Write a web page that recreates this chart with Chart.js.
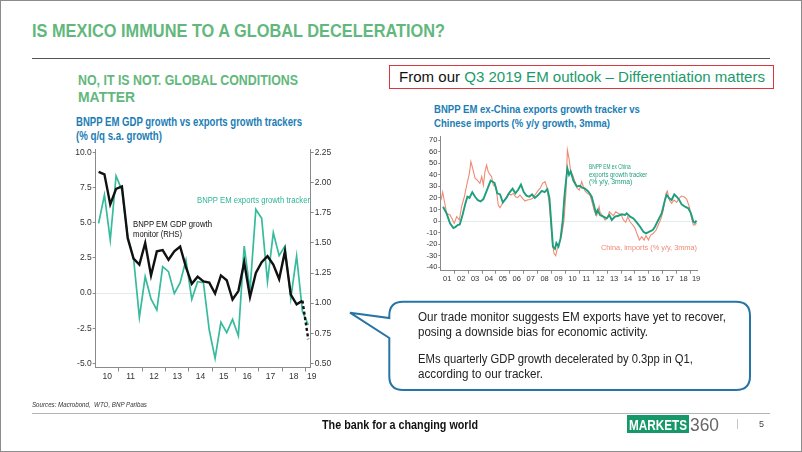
<!DOCTYPE html>
<html>
<head>
<meta charset="utf-8">
<script src="https://cdn.jsdelivr.net/npm/chart.js@4.4.0/dist/chart.umd.min.js"></script>
<style>
  body { margin: 0; background: #fff; }
  #page { position: absolute; left: 0; top: 0; width: 802px; height: 452px; overflow: hidden; font-family: 'Liberation Sans', Arial, sans-serif; }
  #frame { position: absolute; left: 0; top: 0; width: 802px; height: 452px; box-sizing: border-box; border: 1px solid #8c8c8c; pointer-events: none; }
  .t { position: absolute; white-space: nowrap; line-height: 1; transform-origin: 0 50%; }
  .green { color: #62b87c; font-weight: bold; }
  .blue { color: #1b7db5; font-weight: bold; }
  .rule { position: absolute; }
  canvas { position: absolute; }
  a { color: #1c9a6c; }
</style>
</head>
<body>
<div id="page">
  <div class="t green" style="left:32px;top:22px;font-size:18.5px" data-w="413">IS MEXICO IMMUNE TO A GLOBAL DECELERATION?</div>
  <div class="rule" style="left:32px;top:57.5px;width:738px;height:1.3px;background:#555"></div>

  <div class="t green" style="left:78px;top:73px;font-size:14px" data-w="220">NO, IT IS NOT. GLOBAL CONDITIONS</div>
  <div class="t green" style="left:78px;top:90px;font-size:14px" data-w="57">MATTER</div>

  <div class="rule" style="left:389px;top:65px;width:383px;height:22px;border:1.3px solid #d8383c"></div>
  <div class="t" style="left:399px;top:69px;font-size:15px;color:#111" data-w="366">From our <a>Q3 2019 EM outlook – Differentiation matters</a></div>

  <div class="t blue" style="left:76px;top:115.7px;font-size:12px" data-w="226">BNPP EM GDP growth vs exports growth trackers</div>
  <div class="t blue" style="left:76px;top:130px;font-size:12px" data-w="86">(% q/q s.a. growth)</div>

  <div class="t blue" style="left:434px;top:104.2px;font-size:11.5px" data-w="206">BNPP EM ex-China exports growth tracker vs</div>
  <div class="t blue" style="left:434px;top:117.5px;font-size:11.5px" data-w="176">Chinese imports (% y/y growth, 3mma)</div>

  <canvas id="c1" width="290" height="248" style="left:56px;top:140px"></canvas>
  <canvas id="c2" width="300" height="156" style="left:410px;top:128px"></canvas>

  <div class="t" style="left:196.7px;top:195.5px;font-size:9px;color:#2fb597" data-w="113">BNPP EM exports growth tracker</div>
  <div class="t" style="left:132.7px;top:219.8px;font-size:9px;color:#111" data-w="79">BNPP EM GDP growth</div>
  <div class="t" style="left:132.7px;top:229.5px;font-size:9px;color:#111" data-w="49">monitor (RHS)</div>

  <div class="t" style="left:589.3px;top:162.9px;font-size:7.5px;color:#1d9e7c" data-w="41.7">BNPP EM ex China</div>
  <div class="t" style="left:589.3px;top:170.5px;font-size:7.5px;color:#1d9e7c" data-w="58.3">exports growth tracker</div>
  <div class="t" style="left:589.3px;top:177.9px;font-size:7.5px;color:#1d9e7c" data-w="43.3">(% y/y, 3mma)</div>
  <div class="t" style="left:600.7px;top:243.7px;font-size:8px;color:#ef8a74" data-w="96">China, imports (% y/y, 3mma)</div>

  <svg style="position:absolute;left:0;top:0" width="802" height="452">
    <path d="M 403 301.7 H 736 Q 750 301.7 750 315.7 V 376 Q 750 390 736 390 H 403 Q 389.3 390 389.3 376 V 338 L 350 312.7 L 389.3 318 V 315.7 Q 389.3 301.7 403 301.7 Z"
          fill="#fff" stroke="#2774a6" stroke-width="2"/>
  </svg>
  <div class="t" style="left:418.3px;top:310.5px;font-size:12.5px;color:#222" data-w="308">Our trade monitor suggests EM exports have yet to recover,</div>
  <div class="t" style="left:418.3px;top:325.8px;font-size:12.5px;color:#222" data-w="230">posing a downside bias for economic activity.</div>
  <div class="t" style="left:418.3px;top:353.3px;font-size:12.5px;color:#222" data-w="275">EMs quarterly GDP growth decelerated by 0.3pp in Q1,</div>
  <div class="t" style="left:418.3px;top:367.8px;font-size:12.5px;color:#222" data-w="125">according to our tracker.</div>

  <div class="t" style="left:32px;top:400.5px;font-size:7px;font-style:italic;color:#333" data-w="115">Sources: Macrobond,&nbsp; WTO, BNP Paribas</div>
  <div class="rule" style="left:32px;top:412.5px;width:738px;height:1.5px;background:#b4b4b4"></div>

  <div class="t" style="left:322px;top:417.5px;font-size:13px;font-weight:bold;color:#111" data-w="156">The bank for a changing world</div>
  <div class="rule" style="left:627px;top:415px;width:62px;height:18px;background:#16986a"></div>
  <div class="t" style="left:629px;top:416.5px;font-size:15px;font-weight:bold;color:#fff" data-w="58">MARKETS</div>
  <div class="t" style="left:690px;top:414.5px;font-size:19px;color:#666" data-w="29">360</div>
  <div class="rule" style="left:737px;top:419px;width:1px;height:10px;background:#c4c4c4"></div>
  <div class="t" style="left:759px;top:419.5px;font-size:9px;color:#444">5</div>
</div>
<div id="frame"></div>

<script>
// left chart: quarterly, 2010 Q1 .. 2019 Q1
const quarters = ['2010 Q1','2010 Q2','2010 Q3','2010 Q4','2011 Q1','2011 Q2','2011 Q3','2011 Q4',
  '2012 Q1','2012 Q2','2012 Q3','2012 Q4','2013 Q1','2013 Q2','2013 Q3','2013 Q4',
  '2014 Q1','2014 Q2','2014 Q3','2014 Q4','2015 Q1','2015 Q2','2015 Q3','2015 Q4',
  '2016 Q1','2016 Q2','2016 Q3','2016 Q4','2017 Q1','2017 Q2','2017 Q3','2017 Q4',
  '2018 Q1','2018 Q2','2018 Q3','2018 Q4','2019 Q1'];
const gdpMonitor = [2.09, 2.07, 1.82, 1.95, 1.97, 1.54, 1.37, 1.32, 1.50, 1.23, 1.43, 1.44,
  1.36, 1.43, 1.47, 1.30, 1.16, 1.22, 1.18, 1.17, 1.08, 1.23, 1.19, 1.03,
  1.10, 1.34, 1.05, 1.25, 1.34, 1.39, 1.32, 1.20, 1.43, 1.07, 0.99, 1.02, 0.70];
const exportsTracker = [4.97, 6.99, 3.78, 8.34, 7.34, 4.0, 2.48, -1.73, 1.17, -0.42, -1.2, 1.88,
  1.53, -0.02, 0.74, 2.36, -0.44, 0.81, 0.74, -2.63, -4.65, -2.08, -2.82, -1.87,
  -3.05, 3.35, 0.22, 5.96, 5.32, 0.81, 4.30, 2.67, 3.35, -0.37, 2.64, -1.32, -2.27];
const leftTicks = [-5, -2.5, 0, 2.5, 5, 7.5, 10];
const rightTicks = [0.5, 0.75, 1.0, 1.25, 1.5, 1.75, 2.0, 2.25];
const yearLabels1 = ['10','11','12','13','14','15','16','17','18','19'];

// right chart: readings of the two 3mma series (decimal years)
const emDates = [2001.2, 2001.45, 2001.7, 2001.94, 2002.1, 2002.25, 2002.4, 2002.6, 2002.8, 2002.95,
  2003.1, 2003.3, 2003.5, 2003.7, 2003.9, 2004.1, 2004.3, 2004.62, 2004.9, 2005.1,
  2005.3, 2005.5, 2005.75, 2006.0, 2006.2, 2006.4, 2006.6, 2006.8, 2007.0, 2007.2,
  2007.4, 2007.6, 2007.8, 2008.0, 2008.3, 2008.5, 2008.7, 2008.85, 2009.0, 2009.1,
  2009.25, 2009.35, 2009.5, 2009.65, 2009.8, 2009.92, 2010.0, 2010.14, 2010.26, 2010.38,
  2010.57, 2010.81, 2011.05, 2011.17, 2011.41, 2011.65, 2011.89, 2012.08, 2012.2, 2012.32,
  2012.49, 2012.73, 2012.97, 2013.16, 2013.33, 2013.57, 2013.81, 2014.05, 2014.29, 2014.41,
  2014.65, 2014.89, 2015.13, 2015.37, 2015.61, 2015.8, 2016.04, 2016.28, 2016.44, 2016.68,
  2016.92, 2017.16, 2017.28, 2017.47, 2017.64, 2017.83, 2018.0, 2018.19, 2018.36, 2018.6,
  2018.84, 2019.03, 2019.2, 2019.31, 2019.43];
const emGrowth = [12.4, 6.6, -2.0, -6.0, -5.0, -3.5, -3.0, 5.2, 15, 21,
  20, 25, 21, 18, 17, 19, 25, 35, 33, 24,
  23, 16, 20, 25, 28, 24, 27, 31.5, 25, 22,
  21, 23, 20, 22, 26, 25, 27.5, 20, -5, -22,
  -24, -19, -22, -15, 0, 20, 30, 45.5, 40, 43,
  35, 30, 30.5, 29, 28, 25.5, 21, 12.4, 6.6, 9.5,
  5.2, 3.8, 2.3, 5.2, 0.9, 3.8, 4.6, 5.8, 5.2, 6.6,
  3.8, 2.3, -1.1, -4.9, -9.2, -10.6, -9.2, -7.8, -4.9, 0.9,
  6.6, 18.2, 22.5, 19.6, 18.2, 23.1, 21, 18.2, 14.4, 12.4,
  11, 6.6, -0.6, -1.4, 0.3];
const cnDates = [2001.05, 2001.17, 2001.3, 2001.46, 2001.7, 2001.89, 2002.0, 2002.18, 2002.37, 2002.53,
  2002.73, 2002.9, 2003.09, 2003.2, 2003.33, 2003.5, 2003.66, 2003.85, 2003.98, 2004.1,
  2004.21, 2004.33, 2004.45, 2004.57, 2004.69, 2004.81, 2005.0, 2005.17, 2005.29, 2005.41,
  2005.53, 2005.72, 2005.89, 2006.08, 2006.25, 2006.42, 2006.56, 2006.73, 2006.92, 2007.09,
  2007.26, 2007.45, 2007.64, 2007.81, 2007.98, 2008.17, 2008.36, 2008.53, 2008.65, 2008.82,
  2008.96, 2009.08, 2009.18, 2009.3, 2009.42, 2009.56, 2009.73, 2009.9, 2010.04, 2010.14,
  2010.26, 2010.38, 2010.52, 2010.69, 2010.85, 2011.0, 2011.17, 2011.29, 2011.41, 2011.58,
  2011.77, 2011.94, 2012.08, 2012.25, 2012.42, 2012.49, 2012.68, 2012.85, 2013.02, 2013.16,
  2013.28, 2013.45, 2013.62, 2013.81, 2014.0, 2014.17, 2014.34, 2014.48, 2014.65, 2014.84,
  2015.01, 2015.18, 2015.32, 2015.49, 2015.66, 2015.8, 2015.97, 2016.13, 2016.33, 2016.52,
  2016.68, 2016.88, 2017.04, 2017.23, 2017.33, 2017.47, 2017.64, 2017.81, 2018.0, 2018.17,
  2018.36, 2018.53, 2018.72, 2018.91, 2019.08, 2019.2, 2019.31, 2019.43];
const cnImports = [18, 25, 16.7, 6.6, 5.2, 0.9, -2, 3.8, 0.9, 12.4,
  21, 31, 41, 51.3, 45.5, 37, 35.4, 32.6, 38.3, 31,
  42.6, 48.4, 42.6, 40.3, 38.3, 31, 29.7, 13.8, 11.5, 13.8,
  17.3, 19.6, 23.9, 22.5, 23.9, 21, 20.2, 22.5, 19.6, 17.3,
  18.2, 18.7, 19.6, 22.5, 25.4, 28.2, 32.6, 34, 29.7, 16.7,
  -3.4, -20.7, -27.9, -30, -23.6, -19.3, -12.1, 0.9, 25.4, 61.5,
  54, 42.6, 39.8, 34, 28.2, 26.8, 34, 29.7, 26, 23.9,
  22.5, 15.3, 8.6, 4.6, 12.4, 7.5, 4.6, 0.9, 2.9, 8.1,
  6.6, 4.6, 8.1, 6.6, 5.8, 0.9, -1.1, 3.8, -0.6, -3.4,
  -6.3, -12.1, -16.4, -13.5, -16.4, -12.6, -16.4, -12.1, -10.6, -7.8,
  -3.4, 2.3, 9.5, 23.9, 25.9, 18.2, 15.3, 18.2, 16.1, 19.6,
  21.6, 21, 19, 12.4, 2.3, -3.4, -3.4, -2];
const yTicks2 = [-40, -30, -20, -10, 0, 10, 20, 30, 40, 50, 60, 70];
const yearLabels2 = ['01','02','03','04','05','06','07','08','09','10','11','12','13','14','15','16','17','18','19'];

// fit text lines to measured widths
document.querySelectorAll('[data-w]').forEach(el => {
  const w = el.getBoundingClientRect().width;
  el.style.transform = 'scaleX(' + (parseFloat(el.dataset.w) / w).toFixed(3) + ')';
});

Chart.defaults.font.family = "'Liberation Sans', Arial, sans-serif";
Chart.defaults.color = '#333';

const fixW = w => s => { s.width = w; };
const fixH = h => s => { s.height = h; };
const setTicks = vals => s => { s.ticks = vals.map(v => ({ value: v })); };
const axisGray = '#8a8a8a';

const qx = quarters.map(q => {
  const [y, n] = q.split(' Q');
  return +y + (+n - 0.5) / 4;
});
const firstYear1 = 2000 + +yearLabels1[0];
const yearEdges1 = yearLabels1.slice(1).map(l => 2000 + +l);
const yearMids1 = yearLabels1.map(l => 2000 + +l + 0.5);
yearMids1[yearMids1.length - 1] = 2019.27;
const xMax1 = 2019.23;
// left axis -5.3..10.25, right axis mapped so 10 <-> 2.25 and -5 <-> 0.50
const lMin = -5.3, lMax = 10.25;
const toRight = v => 0.5 + (v + 5) * (1.75 / 15);

new Chart(document.getElementById('c1'), {
  type: 'line',
  data: {
    datasets: [
      {
        label: 'BNPP EM GDP growth monitor (RHS)',
        data: qx.map((x, i) => ({ x: x, y: gdpMonitor[i] })),
        yAxisID: 'y1',
        borderColor: '#111',
        borderWidth: 2.4,
        pointRadius: 0,
        segment: { borderDash: c => c.p1DataIndex === gdpMonitor.length - 1 ? [3, 2.5] : undefined },
        order: 0
      },
      {
        label: 'BNPP EM exports growth tracker',
        data: qx.map((x, i) => ({ x: x, y: exportsTracker[i] })),
        yAxisID: 'y',
        borderColor: '#36bb9d',
        borderWidth: 1.7,
        pointRadius: 0,
        order: 1
      }
    ]
  },
  options: {
    responsive: false,
    animation: false,
    events: [],
    layout: { padding: { top: 9.2, left: 0, right: 0, bottom: 0 } },
    plugins: { legend: { display: false }, tooltip: { enabled: false } },
    scales: {
      x: {
        type: 'linear', position: 'bottom', min: firstYear1, max: xMax1,
        afterBuildTicks: setTicks(yearEdges1),
        ticks: { display: false },
        grid: { drawOnChartArea: false, tickLength: 4, color: axisGray },
        border: { color: axisGray },
        afterFit: fixH(4)
      },
      x2: {
        type: 'linear', position: 'bottom', min: firstYear1, max: xMax1,
        afterBuildTicks: setTicks(yearMids1),
        ticks: { autoSkip: false, maxRotation: 0, padding: 0, font: { size: 8.5 }, callback: (v, i) => yearLabels1[i] },
        grid: { display: false, drawTicks: false },
        border: { display: false },
        afterFit: fixH(16.5)
      },
      y: {
        position: 'left', min: lMin, max: lMax,
        afterBuildTicks: setTicks(leftTicks),
        ticks: { padding: 1, font: { size: 8.5 }, callback: v => v.toFixed(1) },
        grid: { color: c => (c.tick && c.tick.value === 0) ? '#e2ebe8' : 'rgba(0,0,0,0)', tickColor: axisGray, tickLength: 3 },
        border: { color: axisGray },
        afterFit: fixW(39.7)
      },
      y1: {
        position: 'right', min: toRight(lMin), max: toRight(lMax),
        afterBuildTicks: setTicks(rightTicks),
        ticks: { padding: 1, font: { size: 8.5 }, callback: v => v.toFixed(2) },
        grid: { drawOnChartArea: false, tickColor: axisGray, tickLength: 3 },
        border: { color: axisGray },
        afterFit: fixW(35.3)
      }
    }
  }
});

const firstYear2 = 2000 + +yearLabels2[0];
const yearEdges2 = yearLabels2.slice(1).map(l => 2000 + +l);
const yearMids2 = yearLabels2.map(l => 2000 + +l + 0.5);
yearMids2[yearMids2.length - 1] = 2019.4;

new Chart(document.getElementById('c2'), {
  type: 'line',
  data: {
    datasets: [
      {
        label: 'BNPP EM ex China exports growth tracker (% y/y, 3mma)',
        data: emDates.map((x, i) => ({ x: x, y: emGrowth[i] })),
        borderColor: '#1d9e7c',
        borderWidth: 1.9,
        pointRadius: 0,
        order: 0
      },
      {
        label: 'China, imports (% y/y, 3mma)',
        data: cnDates.map((x, i) => ({ x: x, y: cnImports[i] })),
        borderColor: '#ef8a74',
        borderWidth: 1.1,
        pointRadius: 0,
        order: 1
      }
    ]
  },
  options: {
    responsive: false,
    animation: false,
    events: [],
    layout: { padding: { top: 8.7, left: 0, right: 12.5, bottom: 0 } },
    plugins: { legend: { display: false }, tooltip: { enabled: false } },
    scales: {
      x: {
        type: 'linear', position: 'bottom', min: firstYear2, max: 2019.5,
        afterBuildTicks: setTicks(yearEdges2),
        ticks: { display: false },
        grid: { drawOnChartArea: false, tickLength: 3, color: axisGray },
        border: { color: axisGray },
        afterFit: fixH(3.5)
      },
      x2: {
        type: 'linear', position: 'bottom', min: firstYear2, max: 2019.5,
        afterBuildTicks: setTicks(yearMids2),
        ticks: { autoSkip: false, maxRotation: 0, padding: 0, font: { size: 7.5 }, callback: (v, i) => yearLabels2[i] },
        grid: { display: false, drawTicks: false },
        border: { display: false },
        afterFit: fixH(9.8)
      },
      y: {
        position: 'left', min: -42.9, max: 72.9,
        afterBuildTicks: setTicks(yTicks2),
        ticks: { padding: 1, font: { size: 7.5 }, callback: v => String(v) },
        grid: { color: c => (c.tick && c.tick.value === 0) ? '#e4ece9' : 'rgba(0,0,0,0)', tickColor: axisGray, tickLength: 2 },
        border: { color: axisGray },
        afterFit: fixW(30.3)
      }
    }
  }
});
</script>
</body>
</html>
